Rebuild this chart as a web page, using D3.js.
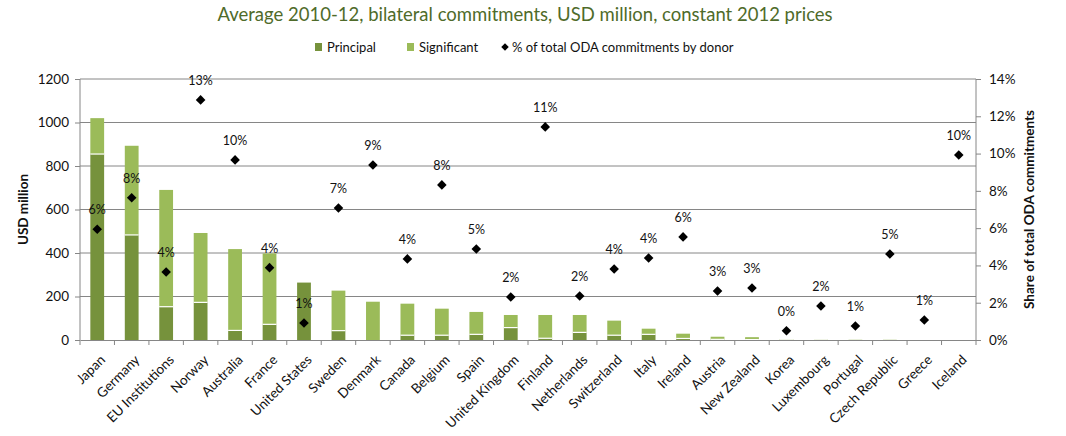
<!DOCTYPE html>
<html><head><meta charset="utf-8">
<script src="https://cdn.jsdelivr.net/npm/d3@7"></script>
<style>body{margin:0;background:#fff;}svg{display:block;font-family:Lato,"Open Sans",sans-serif;}</style>
</head><body><svg id="c" width="1066" height="436"></svg>
<script>
const categories = ["Japan","Germany","EU Institutions","Norway","Australia","France","United States","Sweden","Denmark","Canada","Belgium","Spain","United Kingdom","Finland","Netherlands","Switzerland","Italy","Ireland","Austria","New Zealand","Korea","Luxembourg","Portugal","Czech Republic","Greece","Iceland"];
const principal = [855,483,153,173,44,72,264,43,0,22,22,26,57,8,35,22,26,7,3,2,1,1,0,0,0,0];
const significant = [165,410,537,319,374,326,0,184,176,145,122,103,58,107,80,67,26,22,12,11,3,3,1,1,0,0];
const sharePct = [5.94,7.63,3.65,12.88,9.66,3.88,0.91,7.08,9.39,4.35,8.32,4.88,2.31,11.43,2.36,3.81,4.40,5.53,2.63,2.79,0.50,1.82,0.75,4.61,1.07,9.92];
const shareLabels = ["6%","8%","4%","13%","10%","4%","1%","7%","9%","4%","8%","5%","2%","11%","2%","4%","4%","6%","3%","3%","0%","2%","1%","5%","1%","10%"];
const leftTicks = [0,200,400,600,800,1000,1200];
const rightTicks = [0,2,4,6,8,10,12,14];

const svg = d3.select("#c");
const L = 80, R = 976, T = 79, B = 340;
const xb = d3.scaleBand().domain(categories).range([L, R]);
const y = d3.scaleLinear().domain([0,1200]).range([B, T]);
const y2 = d3.scaleLinear().domain([0,14]).range([B, T]);
const grey = "#868686";
const darkG = "#76923c", lightG = "#9bbb59";

// gridlines
svg.append("g").selectAll("line").data(leftTicks.filter(d=>d>0)).join("line")
  .attr("x1", L).attr("x2", R).attr("y1", d=>y(d)).attr("y2", d=>y(d))
  .attr("stroke", grey).attr("stroke-width", 1);

// bars
const bars = svg.append("g");
categories.forEach((c,i)=>{
  const p = principal[i], s = significant[i];
  const xs = xb(c) + xb.bandwidth()*0.3, w = xb.bandwidth()*0.4;
  if (p>0) bars.append("rect").attr("x", xs).attr("width", w).attr("y", y(p)).attr("height", y(0)-y(p)).attr("fill", darkG);
  if (s>0) bars.append("rect").attr("x", xs).attr("width", w).attr("y", y(p+s)).attr("height", y(p)-y(p+s)).attr("fill", lightG);
  if (p>0 && s>0) bars.append("line").attr("x1", xs).attr("x2", xs+w).attr("y1", y(p)).attr("y2", y(p)).attr("stroke", "#fff").attr("stroke-width", 1.2);
});

// axes
const gl = svg.append("g").attr("transform", `translate(${L},0)`).call(d3.axisLeft(y).tickValues(leftTicks).tickFormat(d3.format("d")).tickSize(5).tickPadding(6));
const gr = svg.append("g").attr("transform", `translate(${R},0)`).call(d3.axisRight(y2).tickValues(rightTicks).tickFormat(d=>d+"%").tickSize(5).tickPadding(8));
const gx = svg.append("g").attr("transform", `translate(0,${B})`).call(d3.axisBottom(xb).tickSize(0).tickFormat(""));
[gl,gr,gx].forEach(g=>{ g.selectAll("path,line").attr("stroke", grey); g.selectAll("text").attr("font-size", 13.5).attr("fill","#111").attr("font-family","Lato, sans-serif"); });
gl.select(".domain").attr("d", `M0,${B}V${T}`);
gr.select(".domain").attr("d", `M0,${B}V${T}`);
// x ticks at category boundaries
svg.append("g").selectAll("line").data(d3.range(categories.length+1)).join("line")
  .attr("x1", i=>L + i*xb.step()).attr("x2", i=>L + i*xb.step())
  .attr("y1", B).attr("y2", B+5).attr("stroke", grey);

// x labels
svg.append("g").selectAll("text").data(categories).join("text")
  .attr("transform", d=>`translate(${xb(d)+xb.bandwidth()/2+3},${B+15}) rotate(-45)`)
  .attr("text-anchor","end").attr("dy","0.6em").attr("font-size",13.5).attr("fill","#111").text(d=>d);

// diamonds
const diam = d3.symbol().type(d3.symbolSquare).size(46);
svg.append("g").selectAll("path").data(categories).join("path")
  .attr("d", diam())
  .attr("transform", (d,i)=>`translate(${xb(d)+xb.bandwidth()/2},${y2(sharePct[i])}) rotate(45)`)
  .attr("fill","#000");
svg.append("g").selectAll("text").data(categories).join("text")
  .attr("x", d=>xb(d)+xb.bandwidth()/2).attr("y", (d,i)=>y2(sharePct[i])-15)
  .attr("text-anchor","middle").attr("font-size",12.5).attr("fill","#111").text((d,i)=>shareLabels[i]);

// axis titles
svg.append("text").attr("transform", `translate(28,${(T+B)/2}) rotate(-90)`).attr("text-anchor","middle")
  .attr("font-size",13.5).attr("font-weight","bold").attr("fill","#111").text("USD million");
svg.append("text").attr("transform", `translate(1034,${(T+B)/2}) rotate(-90)`).attr("text-anchor","middle")
  .attr("font-size",13.5).attr("font-weight","bold").attr("fill","#111").text("Share of total ODA commitments");

// title
svg.append("text").attr("x", 525).attr("y", 21).attr("text-anchor","middle").attr("font-size",18.5)
  .attr("fill","#4f6b2a").text("Average 2010-12, bilateral commitments, USD million, constant 2012 prices");

// legend
const lg = svg.append("g").attr("font-size",13).attr("fill","#111");
lg.append("rect").attr("x",315).attr("y",43).attr("width",7).attr("height",8).attr("fill",darkG);
lg.append("text").attr("x",327).attr("y",51.5).text("Principal");
lg.append("rect").attr("x",407).attr("y",43).attr("width",7).attr("height",8).attr("fill",lightG);
lg.append("text").attr("x",419).attr("y",51.5).text("Significant");
lg.append("path").attr("d", d3.symbol().type(d3.symbolSquare).size(28)()).attr("transform","translate(505,47) rotate(45)").attr("fill","#000");
lg.append("text").attr("x",512).attr("y",51.5).text("% of total ODA commitments by donor");
</script></body></html>
